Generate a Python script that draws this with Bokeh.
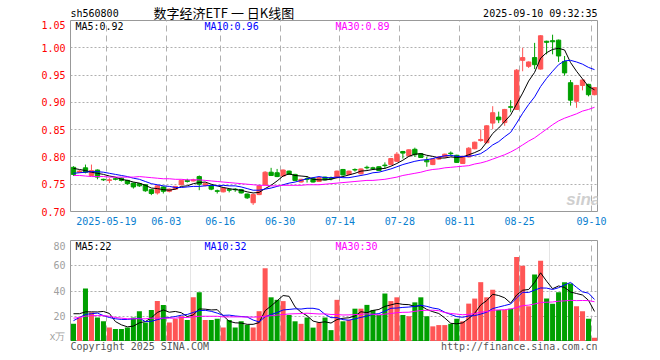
from bokeh.plotting import figure
from bokeh.models import Range1d, FixedTicker, Label, Grid, PrintfTickFormatter, ColumnDataSource
from bokeh.core.properties import value
from bokeh.layouts import column
from bokeh.embed import file_html
from bokeh.resources import INLINE

# ---------------- data ----------------
opens = [0.781,0.772,0.780,0.766,0.776,0.759,0.757,0.760,0.761,0.757,
         0.752,0.751,0.749,0.740,0.734,0.745,0.737,0.741,0.749,0.757,
         0.756,0.764,0.748,0.747,0.738,0.736,0.740,0.741,0.740,0.732,
         0.716,0.731,0.749,0.772,0.771,0.765,0.774,0.768,0.754,0.760,
         0.761,0.755,0.763,0.761,0.762,0.777,0.768,0.777,0.769,0.781,
         0.780,0.782,0.785,0.786,0.792,0.810,0.802,0.814,0.806,0.794,
         0.786,0.796,0.800,0.807,0.803,0.788,0.800,0.815,0.830,0.826,
         0.862,0.873,0.863,0.892,0.887,0.977,0.966,0.982,0.961,1.012,
         1.013,1.014,0.975,0.936,0.902,0.931,0.933,0.914]
highs = [0.783,0.776,0.786,0.786,0.777,0.760,0.761,0.762,0.762,0.758,
         0.753,0.752,0.750,0.741,0.749,0.746,0.742,0.747,0.758,0.760,
         0.760,0.766,0.753,0.748,0.740,0.744,0.742,0.743,0.741,0.733,
         0.733,0.748,0.774,0.780,0.778,0.777,0.775,0.769,0.760,0.765,
         0.762,0.763,0.764,0.764,0.775,0.778,0.775,0.779,0.779,0.784,
         0.782,0.783,0.790,0.798,0.809,0.811,0.814,0.817,0.807,0.800,
         0.797,0.801,0.806,0.810,0.804,0.802,0.818,0.828,0.850,0.858,
         0.893,0.883,0.888,0.904,0.961,1.000,0.975,1.009,1.023,1.013,
         1.024,1.015,0.985,0.941,0.932,0.942,0.934,0.928]
lows = [0.765,0.771,0.770,0.765,0.759,0.756,0.752,0.757,0.755,0.749,
        0.742,0.745,0.736,0.730,0.731,0.733,0.735,0.740,0.748,0.753,
        0.755,0.739,0.746,0.739,0.733,0.735,0.735,0.736,0.733,0.723,
        0.712,0.730,0.748,0.765,0.763,0.764,0.767,0.756,0.753,0.753,
        0.753,0.754,0.757,0.757,0.761,0.766,0.767,0.773,0.768,0.777,
        0.776,0.774,0.778,0.785,0.791,0.797,0.801,0.800,0.798,0.782,
        0.785,0.795,0.799,0.802,0.789,0.787,0.799,0.814,0.828,0.825,
        0.851,0.862,0.857,0.882,0.886,0.957,0.963,0.961,0.960,0.988,
        0.988,0.974,0.949,0.894,0.890,0.922,0.911,0.913]
closes = [0.768,0.774,0.772,0.775,0.763,0.758,0.758,0.759,0.757,0.751,
          0.745,0.747,0.738,0.733,0.747,0.737,0.741,0.746,0.757,0.755,
          0.758,0.750,0.751,0.741,0.737,0.743,0.739,0.740,0.734,0.725,
          0.731,0.747,0.772,0.766,0.764,0.776,0.768,0.757,0.759,0.759,
          0.754,0.762,0.758,0.760,0.774,0.767,0.774,0.776,0.778,0.780,
          0.779,0.775,0.784,0.797,0.805,0.807,0.813,0.804,0.799,0.791,
          0.796,0.800,0.805,0.806,0.790,0.801,0.816,0.827,0.832,0.857,
          0.881,0.868,0.887,0.891,0.959,0.982,0.974,0.969,1.022,1.010,
          1.011,0.985,0.954,0.904,0.931,0.941,0.914,0.927]
ma5 = [0.779,0.777,0.775,0.772,0.770,0.768,0.765,0.763,0.759,0.757,
       0.754,0.752,0.748,0.743,0.742,0.740,0.739,0.741,0.746,0.747,
       0.751,0.753,0.754,0.750,0.747,0.744,0.742,0.740,0.739,0.736,
       0.734,0.735,0.742,0.748,0.756,0.765,0.769,0.766,0.765,0.764,
       0.759,0.758,0.758,0.759,0.762,0.764,0.767,0.770,0.774,0.775,
       0.777,0.778,0.779,0.783,0.788,0.794,0.801,0.805,0.806,0.803,
       0.801,0.798,0.798,0.800,0.799,0.800,0.804,0.808,0.813,0.827,
       0.843,0.853,0.865,0.877,0.897,0.917,0.939,0.955,0.981,0.991,
       0.997,0.999,0.996,0.973,0.957,0.943,0.929,0.923]
ma10 = [0.770,0.771,0.772,0.773,0.773,0.772,0.770,0.768,0.766,0.764,
        0.761,0.759,0.755,0.751,0.749,0.747,0.746,0.744,0.744,0.745,
        0.746,0.746,0.747,0.748,0.747,0.748,0.747,0.747,0.745,0.742,
        0.739,0.739,0.741,0.743,0.746,0.749,0.752,0.754,0.757,0.760,
        0.762,0.764,0.762,0.762,0.763,0.762,0.762,0.764,0.766,0.768,
        0.771,0.772,0.775,0.778,0.782,0.786,0.789,0.792,0.794,0.795,
        0.797,0.800,0.802,0.803,0.801,0.801,0.801,0.803,0.806,0.813,
        0.822,0.828,0.837,0.845,0.862,0.880,0.896,0.910,0.929,0.944,
        0.957,0.969,0.976,0.977,0.974,0.970,0.964,0.960]
ma30 = [0.766,0.766,0.765,0.764,0.764,0.764,0.763,0.763,0.763,0.763,
        0.763,0.764,0.763,0.762,0.761,0.760,0.760,0.759,0.759,0.758,
        0.758,0.758,0.757,0.756,0.755,0.754,0.753,0.752,0.751,0.750,
        0.749,0.748,0.748,0.747,0.747,0.748,0.748,0.748,0.748,0.749,
        0.749,0.749,0.750,0.751,0.752,0.753,0.754,0.755,0.756,0.757,
        0.757,0.758,0.759,0.761,0.763,0.766,0.768,0.770,0.772,0.775,
        0.777,0.778,0.780,0.781,0.782,0.783,0.784,0.787,0.789,0.792,
        0.796,0.800,0.804,0.809,0.815,0.822,0.829,0.835,0.843,0.851,
        0.859,0.866,0.871,0.875,0.879,0.884,0.887,0.891]
volumes = [14,19,42,23,19,16,11,10,10,11,
           19,24,15,25,32,29,15,18,20,17,
           35,39,17,17,18,11,17,11,16,13,
           11,24,58,35,33,32,21,16,14,19,
           11,15,19,9,33,16,17,26,26,29,
           25,21,38,32,35,21,20,31,35,20,
           12,13,13,14,18,16,30,34,47,35,
           41,25,25,26,67,60,28,53,64,34,
           30,39,47,46,28,24,18,3]
vol_ma5 = [22,22,23.5,23.5,23.4,23.8,22.2,15.8,13.2,11.6,
           12.2,14.8,15.8,18.8,23.0,25.0,23.2,23.8,22.8,19.8,
           21.0,25.8,25.6,25.0,25.2,20.4,16.0,14.8,14.6,13.6,
           13.6,15.0,24.4,28.2,32.2,36.4,35.8,27.4,23.2,20.4,
           16.2,15.0,15.6,14.6,17.4,18.4,18.8,20.2,23.6,22.8,
           24.6,25.4,27.8,29.0,30.2,29.4,29.2,27.8,28.4,25.4,
           23.6,22.2,18.6,14.4,14.0,14.8,18.2,22.4,29.0,32.4,
           37.4,36.4,34.6,30.4,36.8,40.6,41.2,46.8,54.4,47.8,
           41.8,44.0,42.8,39.2,38.0,36.8,32.6,23.8]
vol_ma10 = [16.5,19,21.5,22,22.5,20.5,19,18,17.5,17.5,
            18.0,18.5,15.8,16.0,17.3,18.6,19.0,19.8,20.8,21.4,
            23.0,24.5,24.7,23.9,22.5,20.7,20.9,20.2,19.8,19.4,
            17.0,15.5,19.6,21.4,22.9,25.0,25.4,25.9,25.7,26.3,
            26.3,25.4,21.5,18.9,18.9,17.3,16.9,17.9,19.1,20.1,
            21.5,22.1,24.0,26.3,26.5,27.0,27.3,27.8,28.7,27.8,
            26.5,25.7,23.2,21.4,19.7,19.2,20.2,20.5,21.7,23.2,
            26.1,27.3,28.5,29.7,34.6,39.0,38.8,40.7,42.4,42.3,
            41.2,42.6,44.8,46.8,42.9,39.3,38.3,33.3]
vol_ma30 = [18.5,19,20,20.5,20.5,20.5,20,19,18.5,18,
            18,18,18,18.5,18.5,18.5,18.5,18.5,19,19,
            19.5,20,20,20,20,19.5,19.5,19.5,19.5,19.4,
            19.3,19.5,20.0,20.4,20.9,21.4,21.8,22.0,22.1,22.4,
            22.1,21.8,21.9,21.4,21.4,21.0,21.1,21.3,21.5,21.9,
            21.6,21.0,21.7,22.2,22.8,23.1,23.2,23.9,24.5,24.7,
            24.8,24.4,22.9,22.2,21.7,21.2,21.5,22.1,23.2,23.7,
            24.7,25.0,25.2,25.8,26.9,28.4,28.8,29.7,30.9,31.1,
            31.3,31.9,32.2,32.6,32.4,32.5,32.4,31.5]

date_ticks = [6, 16, 25, 35, 45, 55, 65, 75, 87]
date_labels = ["2025-05-19", "06-03", "06-16", "06-30", "07-14",
               "07-28", "08-11", "08-25", "09-10"]
price_ticks = [0.70, 0.75, 0.80, 0.85, 0.90, 0.95, 1.00, 1.05]
vol_ticks = [0, 20, 40, 60, 80]
vol_tick_labels = ["x万", "20", "40", "60", "80"]

title_code = "sh560800"
title_name = "数字经济ETF 一 日K线图"
title_time = "2025-09-10 09:32:35"
price_legend = ["MA5:0.92", "MA10:0.96", "MA30:0.89"]
vol_legend = ["MA5:22", "MA10:32", "MA30:30"]
footer_left = "Copyright 2025 SINA.COM"
footer_right = "http://finance.sina.com.cn"

# ---------------- styling ----------------
RED = "#ff5555"
GREEN = "#00a000"
MONO = "DejaVu Sans Mono"
CJK = "Noto Sans CJK SC"
GRID = "#b0b0b0"
BORDER = "#999999"
MA_COLORS = ["#000000", "#0000ff", "#ff00ff"]
LEFT, RIGHT, FW = 70, 63, 527

n = len(closes)
xs = [i + 0.5 for i in range(n)]
colors = [RED if c >= o else GREEN for o, c in zip(opens, closes)]
src = ColumnDataSource(dict(
    x=xs, open=opens, high=highs, low=lows, close=closes,
    top=[max(o, c) for o, c in zip(opens, closes)],
    bot=[min(o, c) for o, c in zip(opens, closes)],
    color=colors, vol=volumes,
))
xr = Range1d(0, n)

# ---------------- header row ----------------
head = figure(frame_width=FW, frame_height=20, x_range=xr, y_range=Range1d(0, 20),
              x_axis_location=None, y_axis_location=None,
              output_backend="svg", toolbar_location=None,
              min_border_left=LEFT, min_border_right=RIGHT,
              min_border_top=0, min_border_bottom=0)
head.outline_line_color = None
head.grid.visible = False
head.text(x=[0], y=[7], text=[title_code], text_align="left", text_baseline="middle",
          text_font=value(MONO), text_font_size="10px", text_color="#000000")
head.text(x=[25.6], y=[8.5], text=[title_name], text_align="center", text_baseline="middle",
          text_font=value(CJK), text_font_size="13px", text_color="#000000")
head.text(x=[n], y=[7.5], text=[title_time], text_align="right", text_baseline="middle",
          text_font=value(MONO), text_font_size="10px", text_color="#000000")

# ---------------- price panel ----------------
p1 = figure(frame_width=FW, frame_height=191,
            x_range=xr, y_range=Range1d(0.70, 1.05),
            output_backend="svg", toolbar_location=None,
            min_border_left=LEFT, min_border_right=RIGHT,
            min_border_top=0, min_border_bottom=29)
p1.outline_line_color = BORDER
p1.outline_line_width = 1

p1.yaxis.ticker = FixedTicker(ticks=price_ticks)
p1.yaxis.formatter = PrintfTickFormatter(format="%.2f")
p1.yaxis.major_label_text_color = "#ff0000"
p1.yaxis.major_label_text_font = MONO
p1.yaxis.major_label_text_font_size = "10px"
p1.yaxis.major_tick_out = 0
p1.yaxis.major_tick_in = 0
p1.yaxis.minor_tick_line_color = None
p1.yaxis.major_tick_line_color = None
p1.yaxis.axis_line_color = None
p1.yaxis.major_label_standoff = 5

p1.xaxis.ticker = FixedTicker(ticks=date_ticks)
p1.xaxis.major_label_overrides = {t: l for t, l in zip(date_ticks, date_labels)}
p1.xaxis.major_label_text_color = "#0a80d0"
p1.xaxis.major_label_text_font = MONO
p1.xaxis.major_label_text_font_size = "10px"
p1.xaxis.major_tick_out = 0
p1.xaxis.major_tick_in = 0
p1.xaxis.minor_tick_line_color = None
p1.xaxis.major_tick_line_color = None
p1.xaxis.axis_line_color = None
p1.xaxis.major_label_standoff = 5

p1.ygrid.ticker = FixedTicker(ticks=price_ticks)
p1.ygrid.grid_line_color = GRID
p1.ygrid.grid_line_dash = "2 2"
p1.xgrid.ticker = FixedTicker(ticks=date_ticks)
p1.xgrid.grid_line_color = GRID
p1.xgrid.grid_line_dash = "6 4"

# watermark
p1.add_layout(Label(x=82.8, y=0.7215, text="sina", text_align="left",
                    text_baseline="alphabetic", text_font="Liberation Sans",
                    text_font_style="bold italic", text_font_size="17px",
                    text_color="#cfcfcf"))

p1.segment(x0="x", y0="low", x1="x", y1="high", color="color", line_width=1, source=src)
p1.vbar(x="x", width=0.72, top="top", bottom="bot", fill_color="color",
        line_color="color", line_width=1, source=src)
for series, col in zip([ma5, ma10, ma30], MA_COLORS):
    p1.line(xs, series, line_color=col, line_width=1)

for txt, xpos, col in zip(price_legend, [0.83, 22.37, 44.24], MA_COLORS):
    p1.add_layout(Label(x=xpos, y=1.039, text=txt, text_align="left",
                        text_baseline="middle", text_font=MONO,
                        text_font_size="10px", text_color=col))

# ---------------- volume panel ----------------
p2 = figure(frame_width=FW, frame_height=101,
            x_range=xr, y_range=Range1d(0, 80),
            x_axis_location=None,
            output_backend="svg", toolbar_location=None,
            min_border_left=LEFT, min_border_right=RIGHT,
            min_border_top=0, min_border_bottom=0)
p2.outline_line_color = BORDER
p2.outline_line_width = 1

p2.yaxis.ticker = FixedTicker(ticks=vol_ticks)
p2.yaxis.major_label_overrides = {t: l for t, l in zip(vol_ticks, vol_tick_labels)}
p2.yaxis.major_label_text_color = "#a0a0a0"
p2.yaxis.major_label_text_font = MONO
p2.yaxis.major_label_text_font_size = "10px"
p2.yaxis.major_tick_out = 0
p2.yaxis.major_tick_in = 0
p2.yaxis.minor_tick_line_color = None
p2.yaxis.major_tick_line_color = None
p2.yaxis.axis_line_color = None
p2.yaxis.major_label_standoff = 5
p2.ygrid.ticker = FixedTicker(ticks=vol_ticks[1:-1])
p2.ygrid.grid_line_color = GRID
p2.ygrid.grid_line_dash = "2 2"
p2.add_layout(Grid(dimension=0, ticker=FixedTicker(ticks=date_ticks),
                   grid_line_color=GRID, grid_line_dash="6 4"))

p2.vbar(x="x", width=0.84, top="vol", bottom=0, fill_color="color",
        line_color=None, source=src)
for series, col in zip([vol_ma5, vol_ma10, vol_ma30], MA_COLORS):
    p2.line(xs, series, line_color=col, line_width=1)

for txt, xpos, col in zip(vol_legend, [0.83, 22.37, 44.24], MA_COLORS):
    p2.add_layout(Label(x=xpos, y=75.25, text=txt, text_align="left",
                        text_baseline="middle", text_font=MONO,
                        text_font_size="10px", text_color=col))

# ---------------- footer row ----------------
foot = figure(frame_width=FW, frame_height=14, x_range=xr, y_range=Range1d(0, 14),
              x_axis_location=None, y_axis_location=None,
              output_backend="svg", toolbar_location=None,
              min_border_left=LEFT, min_border_right=RIGHT,
              min_border_top=0, min_border_bottom=0)
foot.outline_line_color = None
foot.grid.visible = False
foot.text(x=[0], y=[9], text=[footer_left], text_align="left", text_baseline="middle",
          text_font=value(MONO), text_font_size="10px", text_color="#555555")
foot.text(x=[n], y=[9], text=[footer_right], text_align="right", text_baseline="middle",
          text_font=value(MONO), text_font_size="10px", text_color="#555555")

layout = column(head, p1, p2, foot, spacing=0)
open("out.html", "w").write(file_html(layout, INLINE))
